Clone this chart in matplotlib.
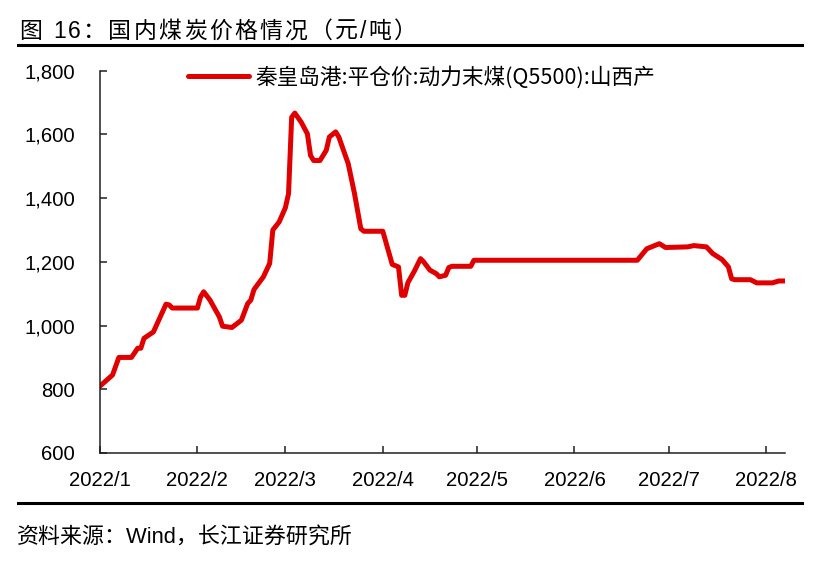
import matplotlib
matplotlib.use("Agg")
import matplotlib.pyplot as plt
import matplotlib.dates as mdates
from matplotlib.lines import Line2D
from matplotlib.ticker import FuncFormatter
import pandas as pd

# Qinhuangdao port thermal coal price (Q5500, Shanxi), yuan/ton
dates = [
    "2022-01-01", "2022-01-05", "2022-01-07", "2022-01-11", "2022-01-13", "2022-01-14",
    "2022-01-15", "2022-01-18", "2022-01-22", "2022-01-23", "2022-01-24",
    "2022-02-01", "2022-02-02", "2022-02-03", "2022-02-05", "2022-02-08", "2022-02-09",
    "2022-02-12", "2022-02-15", "2022-02-17", "2022-02-18", "2022-02-19", "2022-02-22",
    "2022-02-24", "2022-02-25", "2022-02-27",
    "2022-03-01", "2022-03-02", "2022-03-03", "2022-03-04", "2022-03-06", "2022-03-08",
    "2022-03-09", "2022-03-10", "2022-03-12", "2022-03-14", "2022-03-15", "2022-03-17",
    "2022-03-18", "2022-03-21", "2022-03-23", "2022-03-25", "2022-03-26",
    "2022-04-01", "2022-04-04", "2022-04-06", "2022-04-07", "2022-04-08", "2022-04-09",
    "2022-04-11", "2022-04-13", "2022-04-14", "2022-04-16", "2022-04-18", "2022-04-19",
    "2022-04-21", "2022-04-22", "2022-04-23", "2022-04-29", "2022-04-30",
    "2022-06-21", "2022-06-24", "2022-06-28", "2022-06-30",
    "2022-07-07", "2022-07-09", "2022-07-13", "2022-07-15", "2022-07-18", "2022-07-20",
    "2022-07-21", "2022-07-22", "2022-07-27", "2022-07-29",
    "2022-08-03", "2022-08-05", "2022-08-07",
]
prices = [
    810, 845, 900, 900, 929, 929, 960, 980, 1067, 1065, 1055,
    1055, 1090, 1106, 1080, 1027, 998, 994, 1017, 1069, 1080, 1113, 1153, 1195, 1300, 1325,
    1370, 1414, 1654, 1667, 1639, 1602, 1534, 1518, 1518, 1550, 1592, 1608, 1592, 1508,
    1414, 1304, 1296,
    1296, 1192, 1184, 1095, 1095, 1135, 1170, 1210, 1200, 1174, 1163, 1153, 1158, 1182,
    1186, 1186, 1205,
    1205, 1241, 1257, 1245,
    1247, 1251, 1247, 1226, 1207, 1184, 1147, 1144, 1144, 1134,
    1134, 1140, 1140,
]
series_name = "秦皇岛港:平仓价:动力末煤(Q5500):山西产"
month_ticks = ["2022-01-01", "2022-02-01", "2022-03-01", "2022-04-01",
               "2022-05-01", "2022-06-01", "2022-07-01", "2022-08-01"]
y_ticks = [600, 800, 1000, 1200, 1400, 1600, 1800]

title = "图 16：国内煤炭价格情况（元/吨）"
source = "资料来源：Wind，长江证券研究所"

LATIN_CJK = ["Liberation Sans", "Noto Sans CJK SC"]
CJK = ["Noto Sans CJK SC", "Liberation Sans"]
RED = "#E00000"

plt.rcParams["font.family"] = LATIN_CJK


def tracked_text(fig, x_px, y_px, s, size, tracking_px):
    """Draw s one character at a time with extra letter spacing (pixels)."""
    W, H = fig.get_size_inches() * fig.dpi
    renderer = fig.canvas.get_renderer()
    x = x_px
    for ch in s:
        t = fig.text(x / W, 1 - y_px / H, ch, fontsize=size, va="center", ha="left")
        x += t.get_window_extent(renderer).width + tracking_px


fig = plt.figure(figsize=(8.2, 5.66), dpi=100)
ax = fig.add_axes([100 / 820, 1 - 453 / 566, 685 / 820, 382.3 / 566])

x = pd.to_datetime(dates)
ax.plot(x, prices, color=RED, lw=3.6, solid_joinstyle="round",
        solid_capstyle="round", label=series_name)

ax.set_xlim(pd.Timestamp("2022-01-01"), pd.Timestamp("2022-08-07"))
ax.set_ylim(600, 1800)
ax.set_xticks(pd.to_datetime(month_ticks))
ax.xaxis.set_major_formatter(FuncFormatter(
    lambda v, p: "{}/{}".format(mdates.num2date(v).year, mdates.num2date(v).month)))
ax.set_yticks(y_ticks)
ax.yaxis.set_major_formatter(FuncFormatter(lambda v, p: f"{int(v):,}"))

for side in ("top", "right"):
    ax.spines[side].set_visible(False)
for side in ("left", "bottom"):
    ax.spines[side].set_color("#202020")
    ax.spines[side].set_linewidth(1.1)

ax.tick_params(axis="both", direction="in", length=5, width=1.1,
               color="#202020", labelsize=14.6, labelcolor="black")
ax.tick_params(axis="x", pad=13)
ax.tick_params(axis="y", pad=18)

fig.legend(loc="center left", bbox_to_anchor=(188 / 820, 1 - 77 / 566),
           frameon=False, borderpad=0, borderaxespad=0, handlelength=2.8,
           handletextpad=0.33, prop={"family": CJK, "size": 15.6})

# header / footer text and rules
tracked_text(fig, 19, 31, title, 16.5, 2.3)
fig.add_artist(Line2D([18 / 820, 802 / 820], [1 - 45 / 566] * 2,
                      color="black", lw=2.2, transform=fig.transFigure))
fig.add_artist(Line2D([18 / 820, 802 / 820], [1 - 503 / 566] * 2,
                      color="black", lw=2.2, transform=fig.transFigure))
fig.text(17 / 820, 1 - 537 / 566, source, fontsize=15.8, va="center", ha="left")

fig.savefig("out.png", dpi=100)
